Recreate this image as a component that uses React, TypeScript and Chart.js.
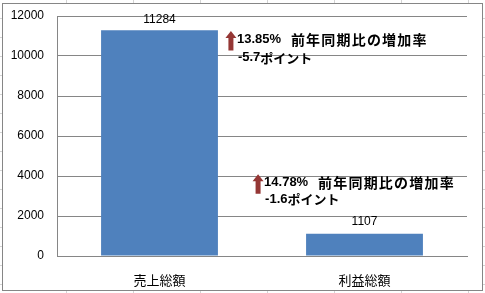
import React, { useEffect, useRef } from "react";
import { Chart, registerables } from "chart.js";

Chart.register(...registerables);

const categories = ["売上総額", "利益総額"];
const values = [11284, 1107];
const yTicks = [0, 2000, 4000, 6000, 8000, 10000, 12000];
const rates = ["13.85%", "14.78%"];
const rateLabel = "前年同期比の増加率";
const pointChanges = ["-5.7", "-1.6"];
const pointUnit = "ポイント";
// annotation anchor values (y-axis units) for each category
const annotationValues = [10820, 3660];

const W = 485;
const H = 293;

const annotationPlugin = {
  id: "annot",
  afterDatasetsDraw(chart: any) {
    const ctx = chart.ctx;
    const meta = chart.getDatasetMeta(0);
    const ys = chart.scales.y;
    ctx.save();
    // data labels
    ctx.fillStyle = "#000";
    ctx.font = "12px 'Liberation Sans', Arial, sans-serif";
    ctx.textAlign = "center";
    ctx.textBaseline = "middle";
    meta.data.forEach((bar: any, i: number) => {
      const off = i === 0 ? 11 : 12;
      ctx.fillText(String(values[i]), bar.x, bar.y - off);
    });
    // annotations
    meta.data.forEach((bar: any, i: number) => {
      const half = bar.width / 2;
      const ax = i === 0 ? bar.x + half + 8 : bar.x - half - 53;
      const ly = ys.getPixelForValue(annotationValues[i]);
      // arrow
      const cx = ax + 5;
      const top = ly - 8.5;
      const bottom = ly + 11;
      ctx.fillStyle = "#953735";
      ctx.beginPath();
      ctx.moveTo(cx, top);
      ctx.lineTo(cx + 5.5, top + 7);
      ctx.lineTo(cx + 2.5, top + 7);
      ctx.lineTo(cx + 2.5, bottom);
      ctx.lineTo(cx - 2.5, bottom);
      ctx.lineTo(cx - 2.5, top + 7);
      ctx.lineTo(cx - 5.5, top + 7);
      ctx.closePath();
      ctx.fill();
      // text
      ctx.fillStyle = "#000";
      ctx.textAlign = "left";
      ctx.textBaseline = "middle";
      const tx = ax + 11;
      ctx.font = "bold 13px 'Liberation Sans', Arial, sans-serif";
      ctx.fillText(rates[i], tx, ly);
      ctx.font = "bold 14px 'Noto Sans CJK JP', sans-serif";
      (ctx as any).letterSpacing = "1.2px";
      ctx.fillText(rateLabel, tx + 54, ly);
      (ctx as any).letterSpacing = "0px";
      const l2 = ly + (i === 0 ? 18 : 16.5);
      ctx.font = "bold 13px 'Liberation Sans', Arial, sans-serif";
      ctx.fillText(pointChanges[i], tx + 1, l2);
      const w = ctx.measureText(pointChanges[i]).width;
      ctx.font = "bold 13px 'Noto Sans CJK JP', sans-serif";
      ctx.fillText(pointUnit, tx + 1 + w, l2);
    });
    ctx.restore();
  },
};

export default function App() {
  const ref = useRef<HTMLCanvasElement>(null);
  useEffect(() => {
    if (!ref.current) return;
    const chart = new Chart(ref.current, {
      type: "bar",
      data: {
        labels: categories,
        datasets: [
          {
            data: values,
            backgroundColor: "#4f81bd",
            barPercentage: 0.57,
            categoryPercentage: 1,
          },
        ],
      },
      options: {
        animation: false,
        responsive: false,
        devicePixelRatio: 1,
        layout: { padding: { left: 0, right: 18, top: 16, bottom: 0 } },
        plugins: { legend: { display: false }, tooltip: { enabled: false } },
        scales: {
          x: {
            grid: { display: false },
            border: { display: true, color: "#868686" },
            ticks: {
              color: "#000",
              padding: 8,
              font: { family: "'Noto Sans CJK JP', sans-serif", size: 13 },
            },
            afterFit: (s: any) => {
              s.height = 37;
            },
          },
          y: {
            min: 0,
            max: 12000,
            afterBuildTicks: (s: any) => {
              s.ticks = yTicks.map((v) => ({ value: v }));
            },
            grid: { color: "#868686", drawTicks: false },
            border: { display: true, color: "#868686" },
            ticks: {
              color: "#000",
              padding: 13,
              callback: (v: any) => String(v),
              font: { family: "'Liberation Sans', Arial, sans-serif", size: 12 },
            },
            afterFit: (s: any) => {
              s.width = 57;
              s.paddingTop = 0;
              s.paddingBottom = 0;
            },
          },
        },
      },
      plugins: [annotationPlugin],
    });
    return () => chart.destroy();
  }, []);

  const gridBg =
    "repeating-linear-gradient(to bottom, transparent 0px, transparent 18px, #d4d4d4 18px, #d4d4d4 19px)," +
    "repeating-linear-gradient(to right, transparent 0px, transparent 66px, #d4d4d4 66px, #d4d4d4 67px)";

  return (
    <div
      style={{
        position: "fixed",
        left: 0,
        top: 0,
        width: W,
        height: H,
        background: "#fff",
        backgroundImage: gridBg,
        overflow: "hidden",
      }}
    >
      <div
        style={{
          position: "absolute",
          left: 2,
          top: 3,
          width: 479,
          height: 286,
          border: "1px solid #868686",
          background: "#fff",
        }}
      />
      <canvas
        ref={ref}
        width={W}
        height={H}
        style={{ position: "absolute", left: 0, top: 0, display: "block" }}
      />
    </div>
  );
}
